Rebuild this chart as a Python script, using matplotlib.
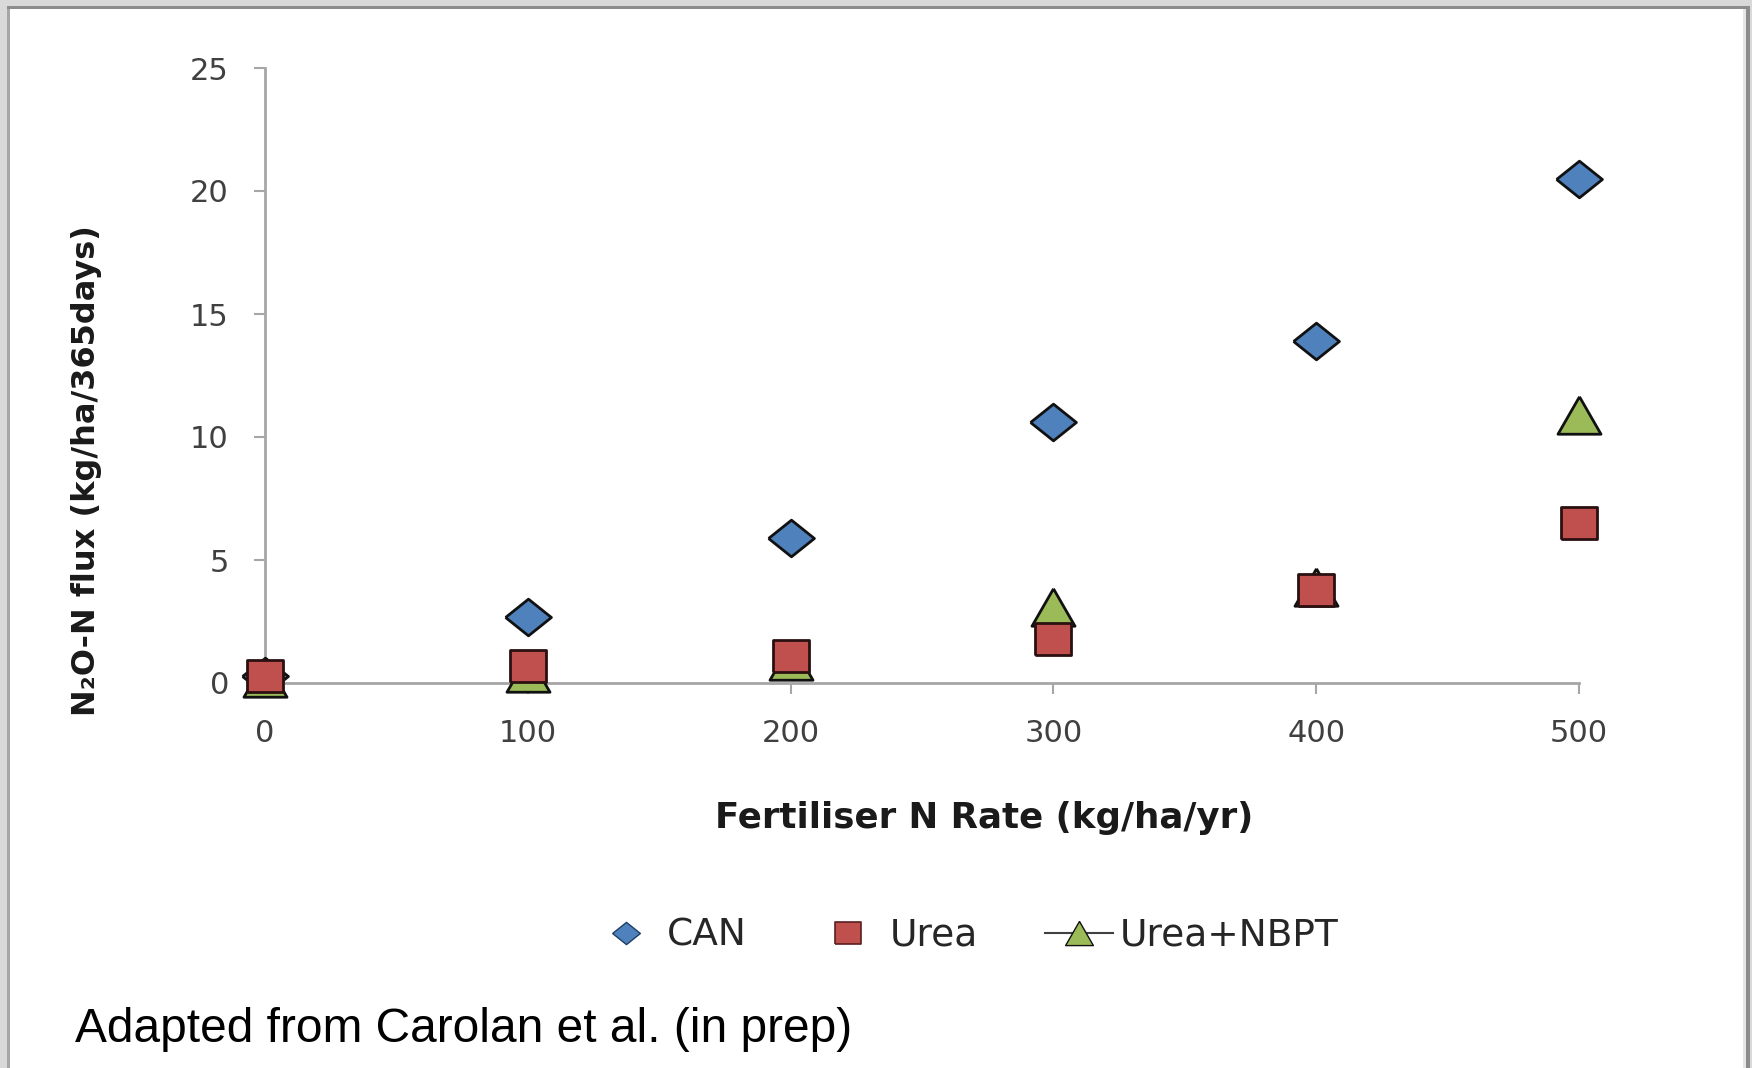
import matplotlib
matplotlib.use('Agg')
import matplotlib.pyplot as plt
from matplotlib.lines import Line2D
from matplotlib.patches import Rectangle

# data
rates = [0, 100, 200, 300, 400, 500]
can = [0.3, 2.7, 5.9, 10.6, 13.9, 20.5]
urea = [0.3, 0.7, 1.1, 1.8, 3.8, 6.5]
urea_nbpt = [0.2, 0.4, 0.9, 3.1, 3.9, 10.9]

x_ticks = [0, 100, 200, 300, 400, 500]
y_ticks = [0, 5, 10, 15, 20, 25]

blue = '#4f81bd'
red = '#c0504d'
green = '#9bbb59'

# slightly flattened markers, like in the original picture
diamond = [(-1, 0), (0, 0.8), (1, 0), (0, -0.8), (-1, 0)]
square = [(-1, -0.87), (1, -0.87), (1, 0.87), (-1, 0.87), (-1, -0.87)]
triangle = [(0, 0.87), (-1, -0.87), (1, -0.87), (0, 0.87)]

W, H = 1752, 1068
fig = plt.figure(figsize=(W / 100, H / 100), dpi=100, facecolor='#d9d9d9')

# grey frame round the slide
fig.patches.append(Rectangle((10 / W, 0), 1734 / W, (H - 9) / H, transform=fig.transFigure,
                             facecolor='white', edgecolor='none', zorder=-10))
fig.patches.append(Rectangle((7 / W, 1 - 9 / H), 1743 / W, 3 / H, transform=fig.transFigure,
                             facecolor='#8c8c8c', edgecolor='none', zorder=-9))
fig.patches.append(Rectangle((7 / W, 0), 3 / W, 1 - 9 / H, transform=fig.transFigure,
                             facecolor='#a6a6a6', edgecolor='none', zorder=-9))
fig.patches.append(Rectangle((1743 / W, 0), 3 / W, 1 - 9 / H, transform=fig.transFigure,
                             facecolor='#e6e6e6', edgecolor='none', zorder=-9))
fig.patches.append(Rectangle((1746 / W, 0), 4 / W, 1 - 6 / H, transform=fig.transFigure,
                             facecolor='#8c8c8c', edgecolor='none', zorder=-9))

ax = fig.add_axes([265 / W, 1 - 683 / H, 1314 / W, 615 / H])
ax.set_facecolor('none')

ax.plot(rates, can, ls='none', marker=diamond, ms=33, mfc=blue, mec='#111111', mew=2,
        clip_on=False, zorder=3)
ax.plot(rates, urea_nbpt, ls='none', marker=triangle, ms=31, mfc=green, mec='#111111', mew=2,
        clip_on=False, zorder=4)
ax.plot(rates, urea, ls='none', marker=square, ms=26, mfc=red, mec='#2a1010', mew=2,
        clip_on=False, zorder=5)

ax.set_xlim(0, 500)
ax.set_ylim(0, 25)
ax.set_xticks(x_ticks)
ax.set_yticks(y_ticks)

for side in ['top', 'right']:
    ax.spines[side].set_visible(False)
for side in ['left', 'bottom']:
    ax.spines[side].set_color('#a6a6a6')
    ax.spines[side].set_linewidth(2)

ax.tick_params(axis='both', direction='out', length=8, width=1.5, color='#a6a6a6',
               labelsize=22, labelcolor='#404040', pad=18)

ax.set_xlabel('Fertiliser N Rate (kg/ha/yr)', fontsize=25.7, fontweight='bold', color='#1a1a1a')
ax.xaxis.set_label_coords(0.547, -0.192)
ax.set_ylabel('N₂O-N flux (kg/ha/365days)', fontsize=23, fontweight='bold', color='#1a1a1a')
ax.yaxis.set_label_coords(-0.124, 0.346)

handles = [
    Line2D([], [], ls='none', marker=diamond, ms=20, mfc=blue, mec='#1f3f66', mew=1),
    Line2D([], [], ls='none', marker=square, ms=19, mfc=red, mec='#5a1f1f', mew=1.2),
    Line2D([], [], color='#404040', lw=1.5, marker=triangle, ms=20, mfc=green, mec='#111111', mew=1),
]
fig.legend(handles, ['CAN', 'Urea', 'Urea+NBPT'], loc='center', bbox_to_anchor=(0.551, 1 - 936 / H),
           ncol=3, frameon=False, fontsize=27, labelcolor='#262626', handlelength=1.8,
           handletextpad=0.2, columnspacing=1.8)

fig.text(75 / W, 1 - 1030 / H, 'Adapted from Carolan et al. (in prep)', fontsize=34.5,
         family='Liberation Sans', color='black', va='center', ha='left')

fig.savefig('out.png', dpi=100, facecolor=fig.get_facecolor())
